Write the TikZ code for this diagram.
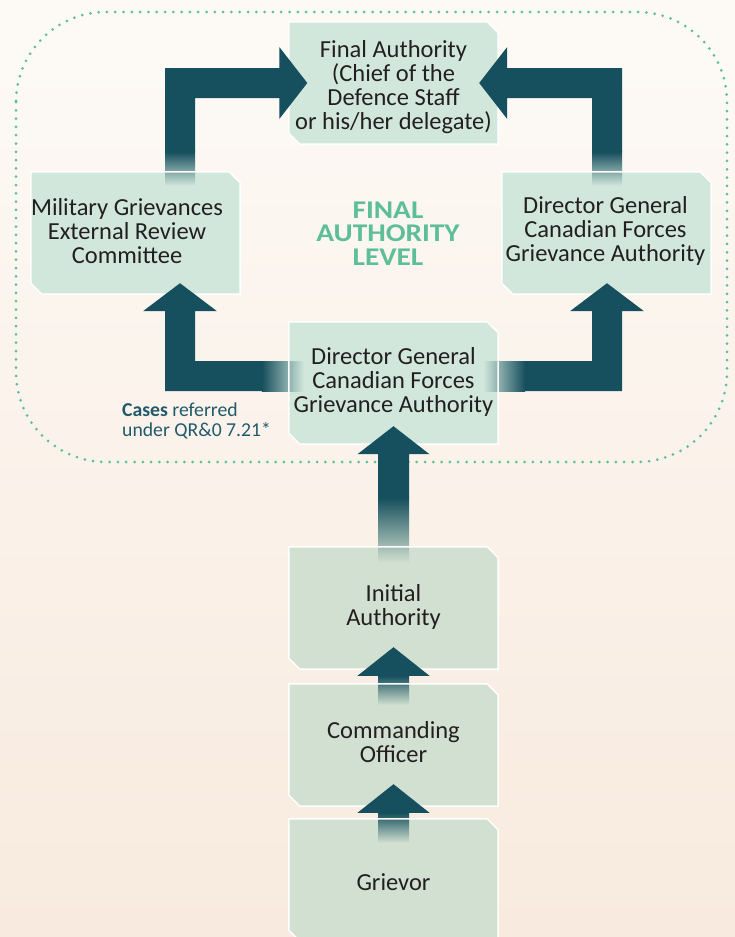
\documentclass[tikz,border=0pt]{standalone}
\usepackage{fontspec}
\setmainfont{Carlito}
\newfontfamily\levelfont[FakeStretch=1.15]{Carlito}
\usetikzlibrary{calc}
\definecolor{arrowc}{HTML}{164F5D}
\definecolor{boxc}{HTML}{D1E7DC}
\definecolor{boxlow}{HTML}{D1E0D0}
\definecolor{txt}{HTML}{231F20}
\definecolor{lvl}{HTML}{5DBE97}
\definecolor{dotc}{HTML}{5DBF9A}
\definecolor{casec}{HTML}{215A6B}
\definecolor{bgtop}{HTML}{FDFAF6}
\definecolor{bgbot}{HTML}{F8EADE}
\pgfdeclarelayer{bg}
\pgfdeclarelayer{boxfill}
\pgfdeclarelayer{fades}
\pgfdeclarelayer{outlines}
\pgfsetlayers{bg,boxfill,fades,outlines,main}
\begin{document}
\begin{tikzpicture}[x=1pt,y=-1pt,
  box/.style={minimum width=209pt,minimum height=122pt,inner sep=0pt},
  boxtext/.style={align=center,text=txt,inner sep=0pt,font=\fontsize{24.5}{24}\selectfont}]
\useasboundingbox (0,0) rectangle (735,937);
\begin{pgfonlayer}{bg}
  \shade[top color=bgtop,bottom color=bgbot] (0,0) rectangle (735,937);
  \draw[dotc,line width=3pt,line cap=round,dash pattern=on 0pt off 8.3pt,rounded corners=90pt] (16,12) rectangle (727,462);
\end{pgfonlayer}

% boxes
\node[box,label={[boxtext,yshift=-4.5pt]center:{Final Authority\\(Chief of the\\Defence Staff\\or his/her delegate)}}] (fa) at (393.5,83) {};
\node[box,label={[boxtext,xshift=-8.5pt,yshift=2pt]center:{Military Grievances\\External Review\\Committee}}] (mg) at (135.5,233) {};
\node[box,label={[boxtext,xshift=-1pt,yshift=2pt]center:{Director General\\Canadian Forces\\Grievance Authority}}] (dgr) at (606.5,233) {};
\node[box,label={[boxtext,yshift=1.5pt]center:{Director General\\Canadian Forces\\Grievance Authority}}] (dgc) at (393.5,383) {};
\node[box,label={[boxtext,yshift=1.5pt]center:{Initial\\Authority}}] (ia) at (393.5,608) {};
\node[box,label={[boxtext,yshift=2.5pt]center:{Commanding\\Officer}}] (co) at (393.5,745) {};
\node[box,label={[boxtext,yshift=-2pt]center:{Grievor}}] (gr) at (393.5,880) {};

\foreach \n/\c in {fa/boxc,mg/boxc,dgr/boxc,dgc/boxc,ia/boxlow,co/boxlow,gr/boxlow}{
  \begin{pgfonlayer}{boxfill}
    \fill[\c] (\n.north west) -- ([xshift=-11pt]\n.north east) -- ([yshift=-11pt]\n.north east) -- (\n.south east) -- ([xshift=11pt]\n.south west) -- ([yshift=11pt]\n.south west) -- cycle;
  \end{pgfonlayer}
  \begin{pgfonlayer}{outlines}
    \draw[white,line width=1.5pt] (\n.north west) -- ([xshift=-11pt]\n.north east) -- ([yshift=-11pt]\n.north east) -- (\n.south east) -- ([xshift=11pt]\n.south west) -- ([yshift=11pt]\n.south west) -- cycle;
  \end{pgfonlayer}
}

% level text
\node[font=\levelfont\bfseries\fontsize{25.5}{23.5}\selectfont,text=lvl,align=center,inner sep=0pt] (lvl) at (388,233.5) {FINAL\\AUTHORITY\\LEVEL};

% cases note
\node[anchor=west,align=left,text=casec,inner sep=0pt,font=\fontsize{19.7}{20}\selectfont] (cases) at (122,420.5) {\textbf{Cases} referred\\under QR\&0 7.21*};

% fades
\begin{pgfonlayer}{fades}
  \shade[top color=arrowc,bottom color=boxc] ($(mg.north)+(29.5,-20)$) rectangle ($(mg.north)+(59.5,14)$);
  \shade[top color=arrowc,bottom color=boxc] ($(dgr.north)+(-14.5,-20)$) rectangle ($(dgr.north)+(15.5,14)$);
  \shade[left color=arrowc,right color=boxc] ($(dgc.west)+(-27,-22)$) rectangle ($(dgc.west)+(15,8)$);
  \shade[left color=boxc,right color=arrowc] ($(dgc.east)+(-15,-22)$) rectangle ($(dgc.east)+(27,8)$);
  \shade[top color=arrowc,bottom color=boxlow] ($(ia.north)+(-15.5,-49)$) rectangle ($(ia.north)+(15.5,16)$);
  \shade[top color=arrowc,bottom color=boxlow] ($(co.north)+(-15.5,-8)$) rectangle ($(co.north)+(15.5,21)$);
  \shade[top color=arrowc,bottom color=boxlow] ($(gr.north)+(-15.5,-6)$) rectangle ($(gr.north)+(15.5,24)$);
\end{pgfonlayer}

% block arrows
\fill[arrowc] ($(mg.north)+(29.5,-20)$) |- ($(fa.west)+(-9.5,-15)$) -- ++(0,-21) -- ($(fa.west)+(18.5,0)$) -- ($(fa.west)+(-9.5,36)$) -- ++(0,-21) -| ($(mg.north)+(59.5,-20)$) -- cycle;
\fill[arrowc] ($(dgr.north)+(15.5,-20)$) |- ($(fa.east)+(9,-15)$) -- ++(0,-21) -- ($(fa.east)+(-19,0)$) -- ($(fa.east)+(9,36)$) -- ++(0,-21) -| ($(dgr.north)+(-14.5,-20)$) -- cycle;
\fill[arrowc] ($(dgc.west)+(-27,-22)$) -| ($(mg.south)+(59.5,17)$) -- ++(22,0) -- ($(mg.south)+(44.5,-11)$) -- ($(mg.south)+(7.5,17)$) -- ++(22,0) |- ($(dgc.west)+(-27,8)$) -- cycle;
\fill[arrowc] ($(dgc.east)+(27,-22)$) -| ($(dgr.south)+(-14.5,17)$) -- ++(-22,0) -- ($(dgr.south)+(0.5,-11)$) -- ($(dgr.south)+(37.5,17)$) -- ++(-22,0) |- ($(dgc.east)+(27,8)$) -- cycle;
\fill[arrowc] ($(ia.north)+(-15.5,-49)$) -- ($(dgc.south)+(-15.5,10)$) -- ++(-20.5,0) -- ($(dgc.south)+(0,-18)$) -- ($(dgc.south)+(36,10)$) -- ++(-20.5,0) -- ($(ia.north)+(15.5,-49)$) -- cycle;
\fill[arrowc] ($(co.north)+(-36,-8)$) -- ($(ia.south)+(0,-22)$) -- ($(co.north)+(36,-8)$) -- cycle;
\fill[arrowc] ($(gr.north)+(-36,-6)$) -- ($(co.south)+(0,-22)$) -- ($(gr.north)+(36,-6)$) -- cycle;
\end{tikzpicture}
\end{document}
